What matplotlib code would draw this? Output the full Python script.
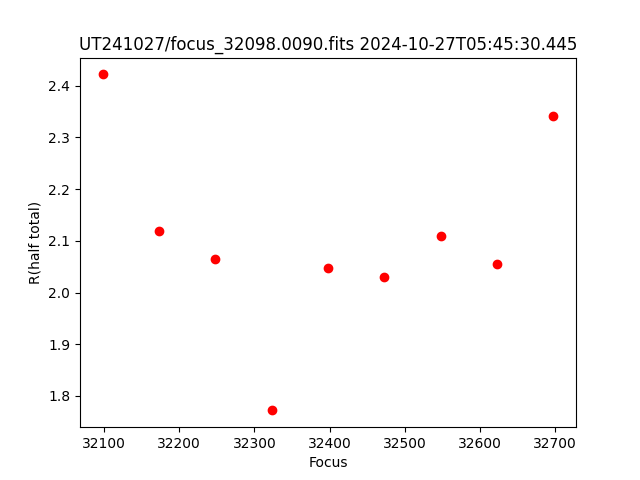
import matplotlib
matplotlib.use("Agg")
import matplotlib.pyplot as plt

focus = [32098, 32173, 32248, 32323, 32398, 32473, 32548, 32623, 32698]
r_half = [2.422, 2.120, 2.064, 1.772, 2.047, 2.031, 2.110, 2.056, 2.342]

fig, ax = plt.subplots(figsize=(6.4, 4.8), dpi=100)
ax.plot(focus, r_half, 'o', color='red')
ax.set_xlabel('Focus')
ax.set_ylabel('R(half total)')
ax.set_title('UT241027/focus_32098.0090.fits 2024-10-27T05:45:30.445')
fig.savefig('out.png')
